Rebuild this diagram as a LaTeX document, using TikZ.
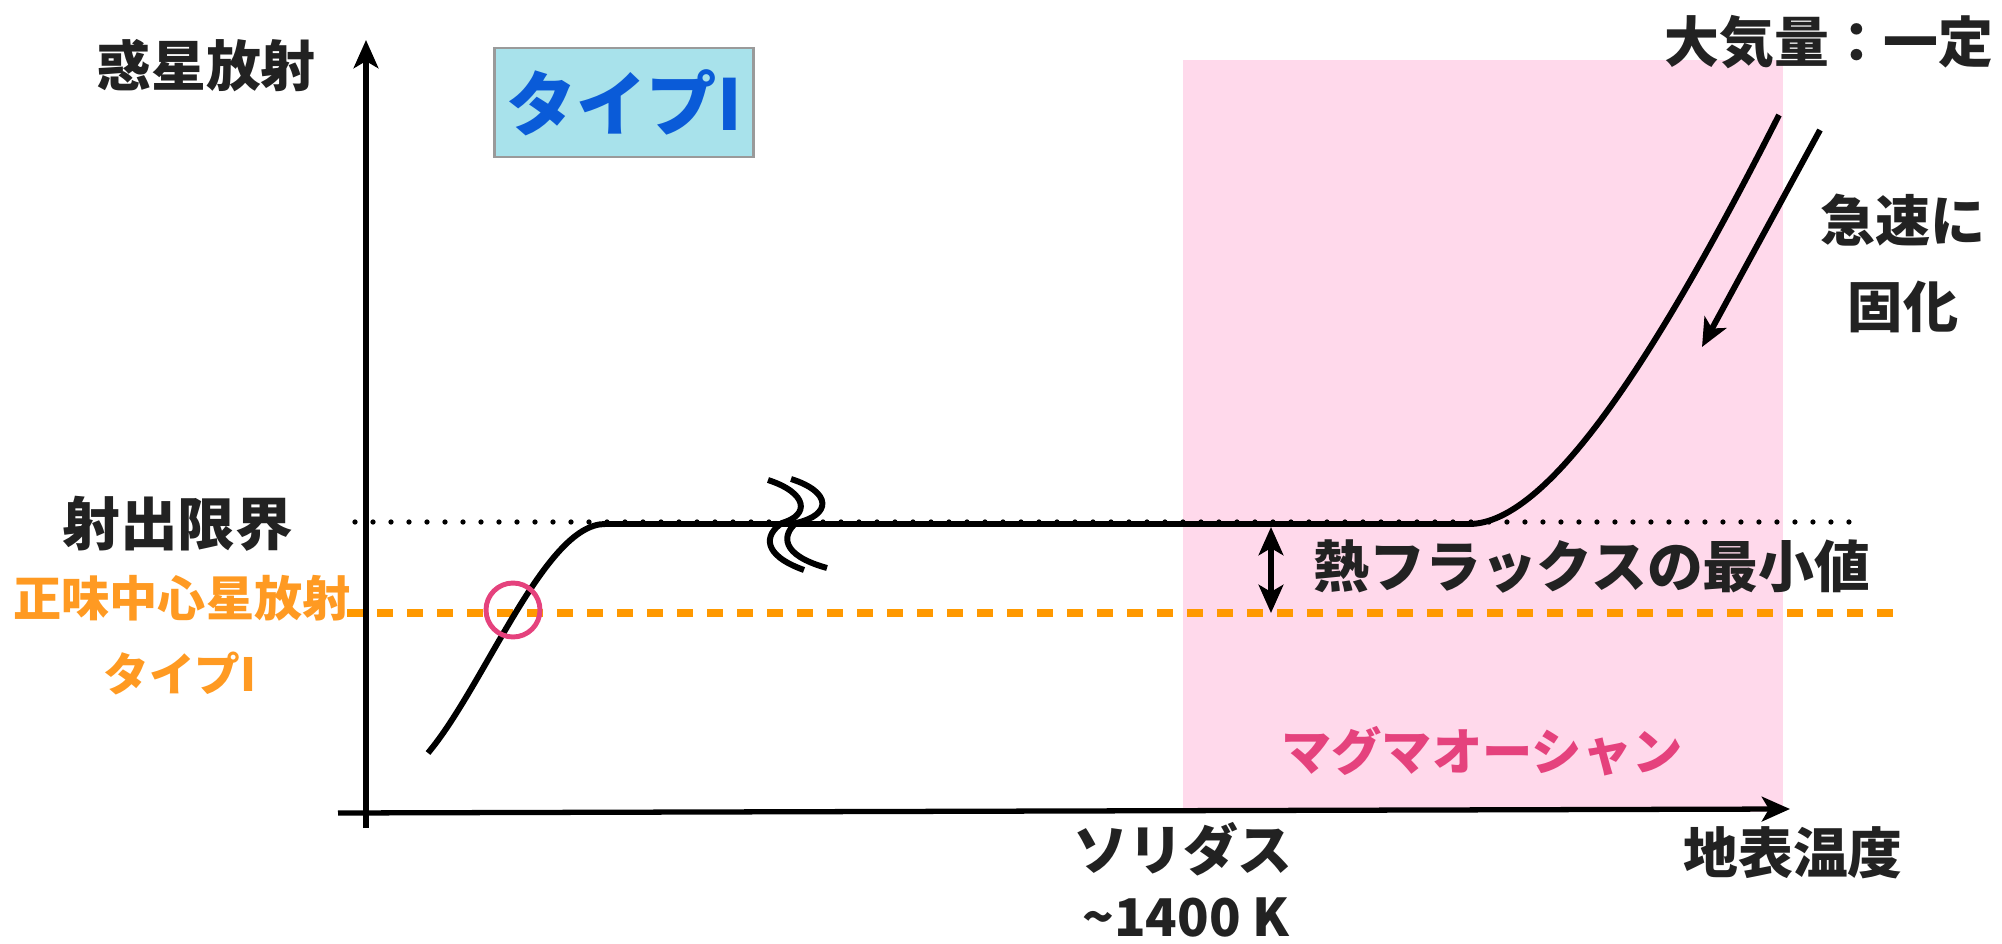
\documentclass[tikz,border=0pt]{standalone}
\usepackage{fontspec}
\setmainfont{Noto Sans CJK JP}
\usepackage{xcolor}
\usetikzlibrary{arrows.meta,calc}
\definecolor{ink}{HTML}{222222}
\definecolor{orng}{HTML}{FF9900}
\definecolor{orngtext}{HTML}{FF9A22}
\definecolor{mag}{HTML}{E5427D}
\definecolor{tblue}{HTML}{0A5BD8}
\definecolor{boxcyan}{HTML}{A8E2EB}
\definecolor{boxgray}{HTML}{9A9A9A}
\definecolor{pinkbg}{HTML}{FFD9EB}
\tikzset{>={Stealth[length=8pt,width=7pt,inset=2pt]}}

\begin{document}
\begin{tikzpicture}[
		lbl/.style={font=\fontsize{15.6}{18}\selectfont\bfseries, text=ink, inner sep=0pt},
		axis/.style={->, line width=1.5pt, black},
		curve/.style={line width=1.7pt, black},
		limitline/.style={line width=1.5pt, line cap=round, dash pattern=on 0pt off 0.18cm},
		stellarline/.style={orng, line width=2.3pt, dash pattern=on 0.16cm off 0.14cm}
	]
		\useasboundingbox (0,0) rectangle (20.02,-9.44);

		% magma ocean region
		\fill[pinkbg] (11.83,-0.60) rectangle (17.83,-8.12);

		% axes
		\coordinate (xstart) at (3.38,-8.13);
		\coordinate (xend) at (17.90,-8.09);
		\coordinate (ystart) at (3.66,-8.28);
		\coordinate (yend) at (3.66,-0.40);
		\draw[axis] (xstart) -- (xend);
		\draw[axis] (ystart) -- (yend);

		% limit and stellar lines
		\coordinate (lim1) at (3.55,-5.22);
		\coordinate (lim2) at (18.62,-5.22);
		\draw[limitline] (lim1) -- (lim2);
		\coordinate (st1) at (3.47,-6.13);
		\coordinate (st2) at (18.96,-6.13);
		\draw[stellarline] (st1) -- (st2);

		% emission curve
		\draw[curve] (4.28,-7.53) .. controls (4.85,-6.85) and (5.45,-5.24) .. (6.05,-5.24)
			-- (14.69,-5.24) .. controls (15.5,-5.24) and (16.6,-3.5) .. (17.79,-1.15);

		% break mark
		\draw[curve] (7.68,-4.80) .. controls (8.08,-4.93) and (8.10,-5.15) .. (7.82,-5.23)
			.. controls (7.64,-5.35) and (7.62,-5.55) .. (8.04,-5.70);
		\draw[curve] (7.91,-4.79) .. controls (8.32,-4.92) and (8.32,-5.15) .. (7.96,-5.23)
			.. controls (7.82,-5.35) and (7.80,-5.55) .. (8.27,-5.68);

		% crossing point
		\node[circle, draw=mag, line width=1.4pt, minimum size=0.54cm, inner sep=0pt] (cross) at (5.13,-6.10) {};

		% minimum flux
		\coordinate (fl1) at (12.71,-5.27);
		\coordinate (fl2) at (12.71,-6.13);
		\draw[<->, line width=1.5pt] (fl1) -- (fl2);

		% solidification
		\coordinate (so1) at (18.20,-1.30);
		\coordinate (so2) at (17.02,-3.47);
		\draw[->, line width=1.7pt] (so1) -- (so2);

		\node[lbl] (yname) at (2.06,-0.66) {惑星放射};
		\node[lbl] (xname) at (17.93,-8.53) {地表温度};
		\node[lbl, font=\fontsize{16.4}{18}\selectfont\bfseries] (limit) at (1.78,-5.24) {射出限界};
		\node[lbl, text=orngtext, font=\fontsize{13.7}{16}\selectfont\bfseries] (stellar) at (1.82,-5.98) {正味中心星放射};
		\node[lbl, text=orngtext, font=\fontsize{13}{16}\selectfont\bfseries] (stype) at (1.80,-6.73) {タイプI};
		\node[draw=boxgray, line width=0.8pt, fill=boxcyan, minimum width=2.58cm, minimum height=1.09cm,
			text=tblue, font=\fontsize{20}{22}\selectfont\bfseries] (typebox) at (6.24,-1.025) {タイプI};
		\node[lbl] (atm) at (18.29,-0.42) {大気量：一定};
		\node[lbl, align=center, font=\fontsize{15.7}{24.5}\selectfont\bfseries] (solidify) at (19.03,-2.63) {急速に\\固化};
		\node[lbl, font=\fontsize{15.9}{18}\selectfont\bfseries] (minflux) at (15.92,-5.67) {熱フラックスの最小値};
		\node[lbl, text=mag, font=\fontsize{14.3}{16}\selectfont\bfseries] (ocean) at (14.82,-7.51) {マグマオーシャン};
		\node[lbl] (solidus) at (11.83,-8.49) {ソリダス};
		\node[lbl, font=\fontsize{14.8}{16}\selectfont\bfseries] (temp) at (11.86,-9.17) {\textasciitilde 1400 K};
	\end{tikzpicture}
\end{document}
